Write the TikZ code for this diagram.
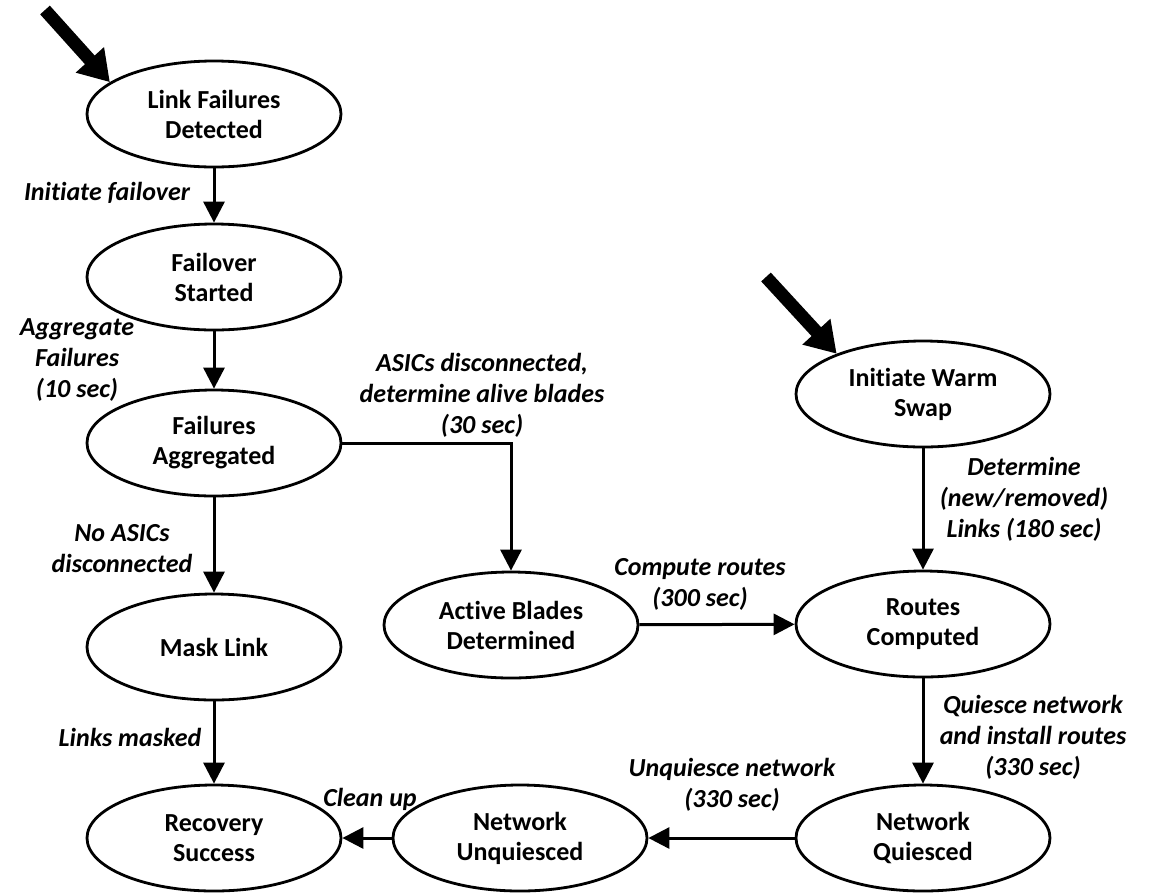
\documentclass[tikz,border=0pt]{standalone}
\usepackage{fontspec}
\setmainfont{Carlito}[Ligatures=NoCommon]
\usetikzlibrary{shapes.geometric,arrows.meta}
\begin{document}
\begin{tikzpicture}[x=1pt,y=-1pt,
  state/.style={ellipse, draw, line width=2.8pt, minimum width=254pt,
    minimum height=106pt, inner sep=0pt, align=center,
    font=\fontsize{26}{30}\selectfont\bfseries},
  lbl/.style={align=center, inner sep=0pt,
    font=\fontsize{26}{31}\selectfont\bfseries\itshape},
  flow/.style={line width=3pt, -{Triangle[width=21pt,length=21pt]}},
  entry/.style={line width=13pt, -{Triangle[width=36pt,length=30pt]}}]
\useasboundingbox (0,0) rectangle (1153,895);

% states
\node[state] (lfd) at (214,114) {Link Failures\\Detected};
\node[state] (fs)  at (214,277) {Failover\\Started};
\node[state] (fa)  at (214,443) {Failures\\Aggregated};
\node[state] (ml)  at (214,647) {Mask Link};
\node[state] (rs)  at (214,838) {Recovery\\Success};
\node[state] (abd) at (511,625) {Active Blades\\Determined};
\node[state] (nu)  at (520,838) {Network\\Unquiesced};
\node[state] (iws) at (923,394) {Initiate Warm\\Swap};
\node[state] (rc)  at (923,624) {Routes\\Computed};
\node[state] (nq)  at (923,838) {Network\\Quiesced};

% entry points
\coordinate (in1) at (45,10);
\coordinate (in2) at (766,277);
\draw[entry] (in1) -- (lfd.163);
\draw[entry] (in2) -- (iws.155);

% transitions
\draw[flow] (lfd) -- (fs);
\draw[flow] (fs) -- (fa);
\draw[flow] (fa) -- (ml);
\draw[flow] (ml) -- (rs);
\draw[flow] (fa.east) -| (abd.north);
\draw[flow] (abd) -- (rc);
\draw[flow] (iws) -- (rc);
\draw[flow] (rc) -- (nq);
\draw[flow] (nq) -- (nu);
\draw[flow] (nu) -- (rs);

% transition labels
\node[lbl] (l1) at (107,193) {Initiate failover};
\node[lbl] (l2) at (77,360) {Aggregate\\Failures\\(10 sec)};
\node[lbl] (l3) at (482,395) {ASICs disconnected,\\determine alive blades\\(30 sec)};
\node[lbl] (l4) at (122,549) {No ASICs\\disconnected};
\node[lbl] (l5) at (130,737) {Links masked};
\node[lbl] (l6) at (700,584) {Compute routes\\(300 sec)};
\node[lbl] (l7) at (1024,499) {Determine\\(new/removed)\\Links (180 sec)};
\node[lbl] (l8) at (1033,737) {Quiesce network\\and install routes\\(330 sec)};
\node[lbl] (l9) at (732,785) {Unquiesce network\\(330 sec)};
\node[lbl] (l10) at (370,799) {Clean up};
\end{tikzpicture}
\end{document}
